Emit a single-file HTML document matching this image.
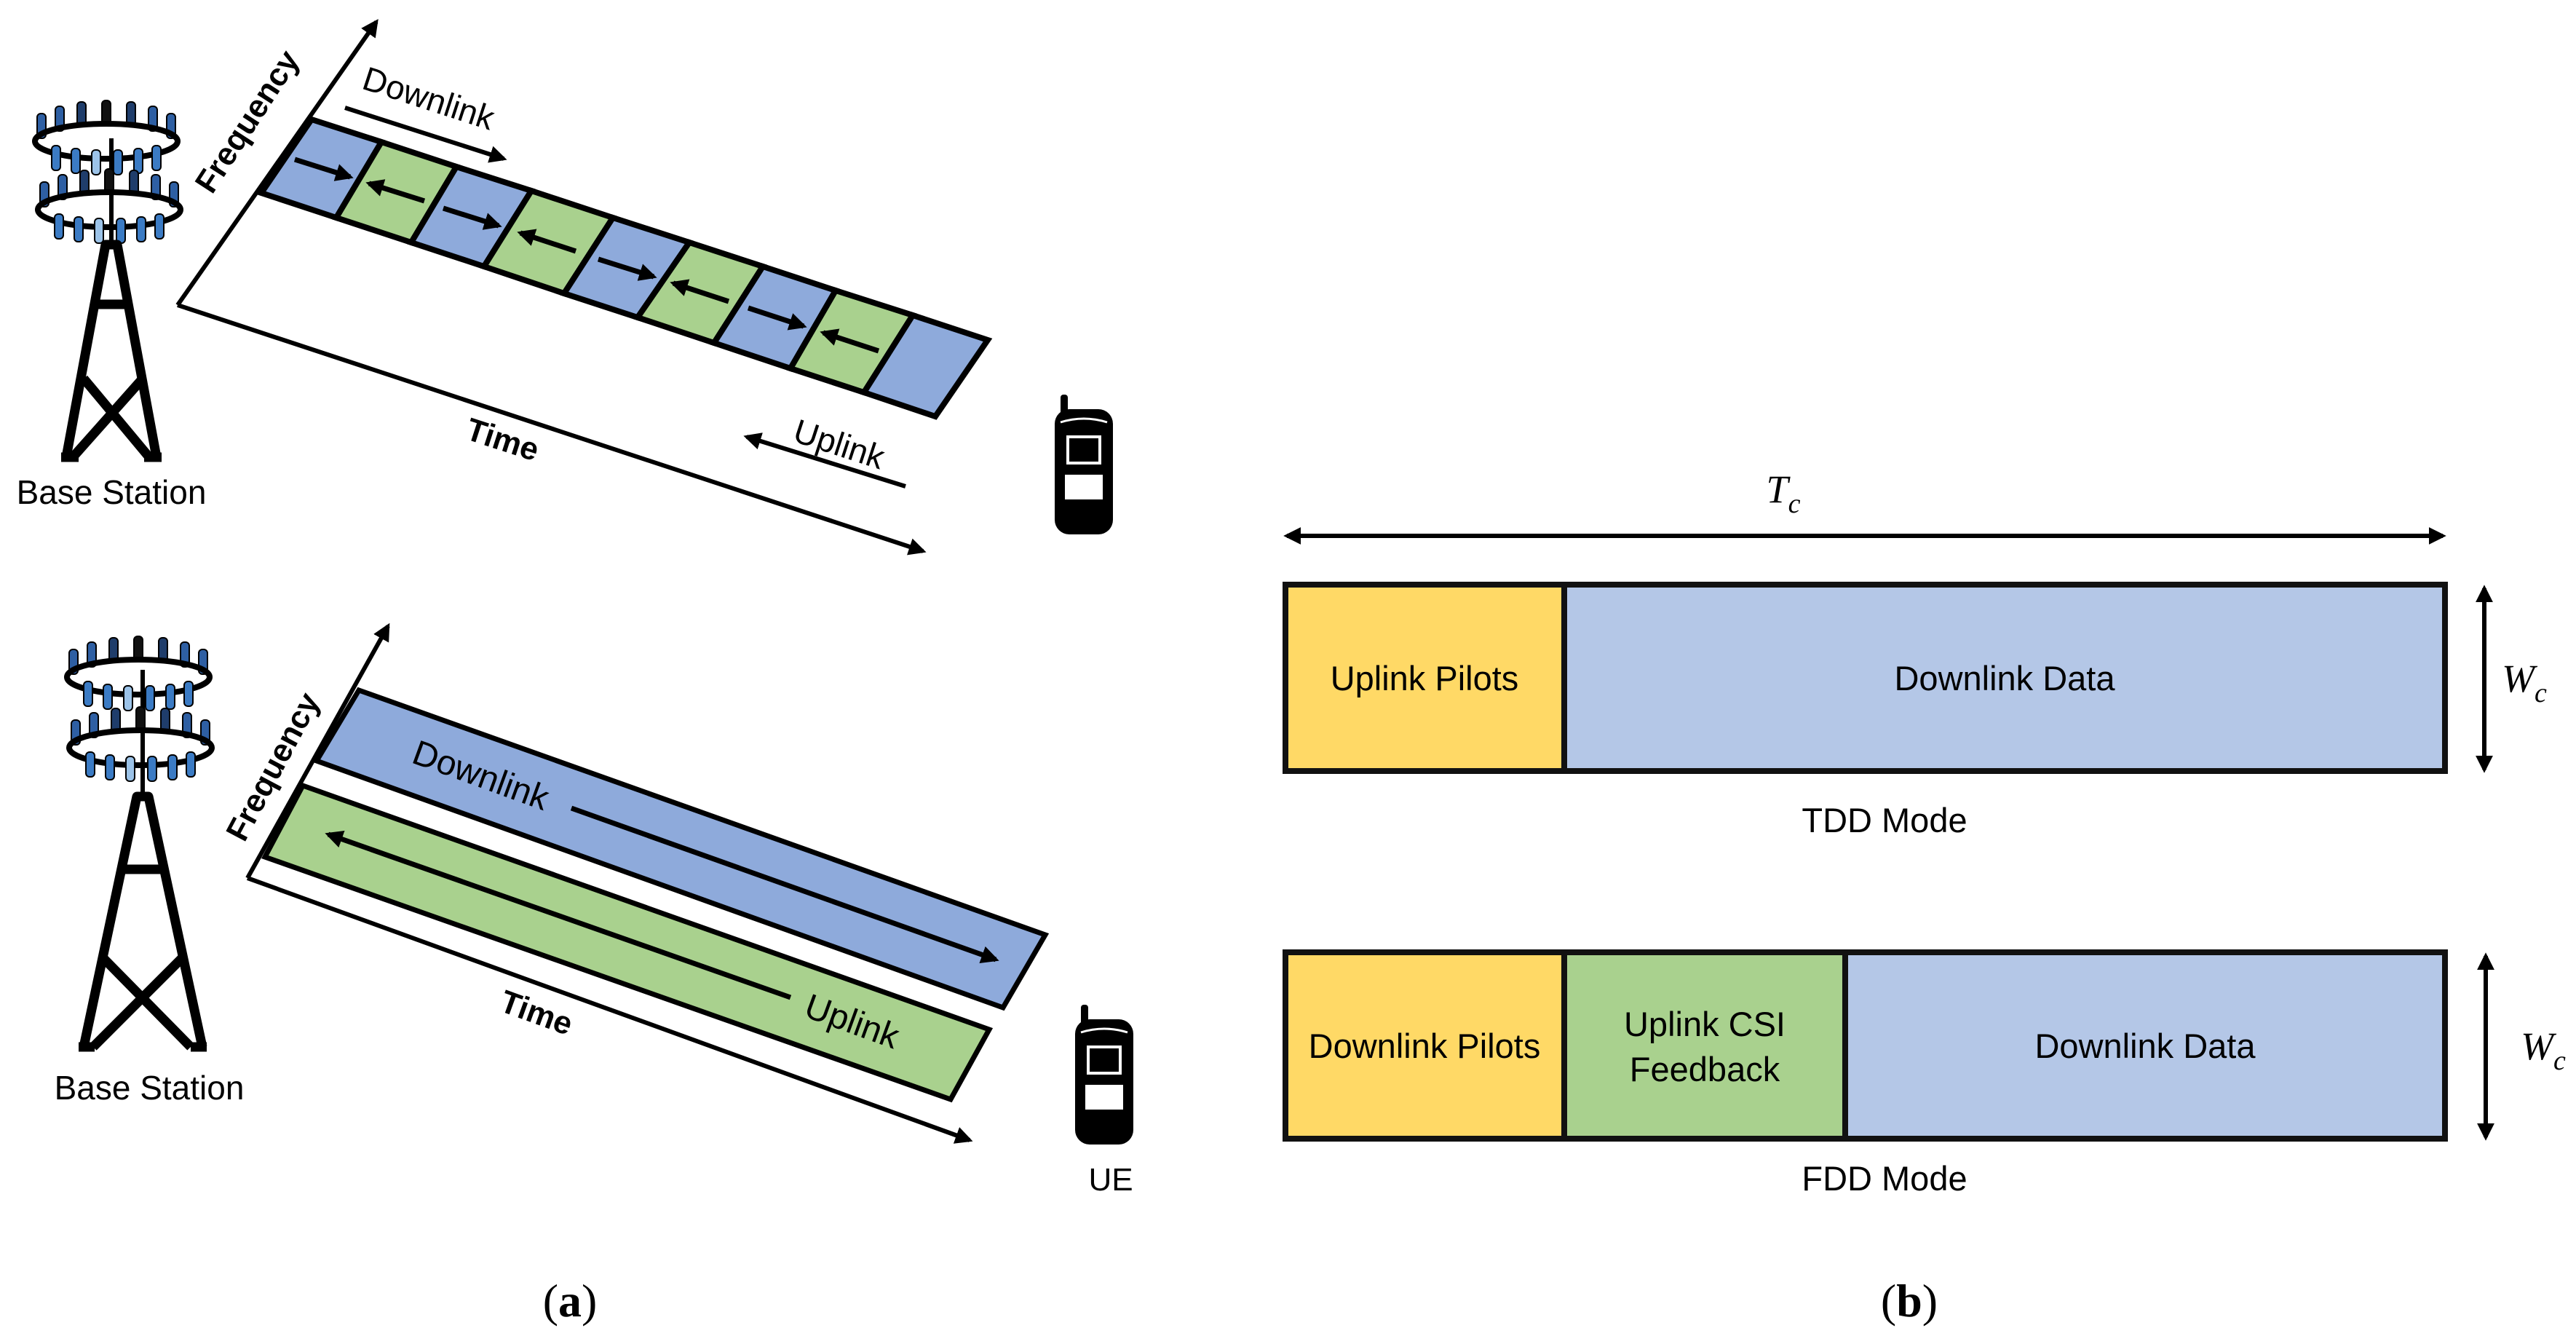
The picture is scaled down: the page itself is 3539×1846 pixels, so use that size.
<!DOCTYPE html>
<html><head><meta charset="utf-8"><style>
html,body{margin:0;padding:0;background:#fff;}
svg{display:block;}
text{font-family:"Liberation Sans",sans-serif;fill:#000;}
</style></head><body>
<svg width="3539" height="1846" viewBox="0 0 3539 1846" xmlns="http://www.w3.org/2000/svg">
<defs>
<marker id="ah" viewBox="0 0 10 10" refX="8" refY="5" markerWidth="4" markerHeight="4" orient="auto-start-reverse"><path d="M0,0 L10,5 L0,10 Z" fill="#000"/></marker>
<marker id="ah2" viewBox="0 0 10 10" refX="8" refY="5" markerWidth="3.5" markerHeight="3.5" orient="auto-start-reverse"><path d="M0,0 L10,5 L0,10 Z" fill="#000"/></marker>
<g id="ant">
  <g fill="#2e5fa3" stroke="#000" stroke-width="2">
    <rect x="-95" y="-38" width="12" height="34" rx="5"/><rect x="-70" y="-48" width="12" height="34" rx="5"/>
    <rect x="-40" y="-54" width="12" height="34" rx="5" fill="#1f3d6b"/><rect x="-6" y="-56" width="12" height="34" rx="5" fill="#111"/>
    <rect x="28" y="-54" width="12" height="34" rx="5" fill="#1f3d6b"/><rect x="58" y="-48" width="12" height="34" rx="5"/>
    <rect x="83" y="-38" width="12" height="34" rx="5"/>
  </g>
  <ellipse cx="0" cy="0" rx="98" ry="24" fill="none" stroke="#000" stroke-width="8"/>
  <g fill="#3b7bc4" stroke="#000" stroke-width="2">
    <rect x="-75" y="6" width="12" height="34" rx="5"/><rect x="-48" y="10" width="12" height="34" rx="5"/>
    <rect x="-20" y="12" width="12" height="34" rx="5" fill="#9cc3e8"/><rect x="10" y="12" width="12" height="34" rx="5"/>
    <rect x="38" y="10" width="12" height="34" rx="5"/><rect x="63" y="6" width="12" height="34" rx="5"/>
  </g>
</g>
<g id="phone">
  <rect x="-40" y="-80" width="80" height="172" rx="20" fill="#000"/>
  <rect x="-32" y="-100" width="10" height="32" rx="4" fill="#000"/>
  <rect x="-24" y="-44" width="48" height="40" fill="#fff"/>
  <rect x="-20" y="-40" width="40" height="32" fill="#000"/>
  <rect x="-26" y="10" width="52" height="34" fill="#fff"/>
  <path d="M-32,-62 Q0,-72 32,-62" stroke="#fff" stroke-width="3" fill="none"/>
</g>
</defs>

<line x1="153" y1="190" x2="153" y2="334" stroke="#000" stroke-width="6"/>
<use href="#ant" x="146" y="194"/>
<use href="#ant" x="150" y="288"/>
<g stroke="#000" stroke-width="13" fill="none" stroke-linejoin="round">
  <path d="M91,628 L145,336 L161,336 L215,628"/>
  <line x1="128" y1="418" x2="178" y2="418"/>
  <path d="M115,520 L205,628 M196,520 L100,628"/>
  <line x1="84" y1="628" x2="108" y2="628"/><line x1="198" y1="628" x2="222" y2="628"/>
</g>
<text x="153" y="692" font-size="46" text-anchor="middle">Base Station</text>

<line x1="244" y1="419" x2="517" y2="30" stroke="#000" stroke-width="6" marker-end="url(#ah)"/>
<line x1="244" y1="419" x2="1268" y2="757" stroke="#000" stroke-width="6" marker-end="url(#ah)"/>
<text x="0" y="0" font-size="44" font-weight="bold" transform="translate(352,175) rotate(-57)" text-anchor="middle">Frequency</text>
<text x="0" y="0" font-size="44" font-weight="bold" transform="translate(686,618) rotate(18)" text-anchor="middle">Time</text>

<g stroke="#000" stroke-width="8" stroke-linejoin="miter">
<polygon points="428,164 524,195 462,299 359,265" fill="#8eaadb"/>
<polygon points="524,195 627,229 565,333 462,299" fill="#a9d18e"/>
<polygon points="627,229 730,262 665,366 565,333" fill="#8eaadb"/>
<polygon points="730,262 842,299 775,403 665,366" fill="#a9d18e"/>
<polygon points="842,299 947,333 876,436 775,403" fill="#8eaadb"/>
<polygon points="947,333 1048,366 981,471 876,436" fill="#a9d18e"/>
<polygon points="1048,366 1148,399 1086,506 981,471" fill="#8eaadb"/>
<polygon points="1148,399 1254,433 1187,539 1086,506" fill="#a9d18e"/>
<polygon points="1254,433 1357,467 1285,572 1187,539" fill="#8eaadb"/>
</g>
<g stroke="#000" stroke-width="7">
<line x1="405" y1="219" x2="481" y2="243" marker-end="url(#ah2)"/>
<line x1="583" y1="276" x2="507" y2="252" marker-end="url(#ah2)"/>
<line x1="609" y1="286" x2="685" y2="310" marker-end="url(#ah2)"/>
<line x1="791" y1="345" x2="715" y2="320" marker-end="url(#ah2)"/>
<line x1="822" y1="356" x2="898" y2="380" marker-end="url(#ah2)"/>
<line x1="1001" y1="414" x2="925" y2="389" marker-end="url(#ah2)"/>
<line x1="1028" y1="423" x2="1104" y2="448" marker-end="url(#ah2)"/>
<line x1="1207" y1="482" x2="1131" y2="457" marker-end="url(#ah2)"/>
</g>
<line x1="474" y1="148" x2="692" y2="218" stroke="#000" stroke-width="6" marker-end="url(#ah)"/>
<text x="0" y="0" font-size="46" transform="translate(584,150) rotate(18)" text-anchor="middle">Downlink</text>
<line x1="1244" y1="668" x2="1026" y2="600" stroke="#000" stroke-width="6" marker-end="url(#ah)"/>
<text x="0" y="0" font-size="46" transform="translate(1148,625) rotate(18)" text-anchor="middle">Uplink</text>

<use href="#phone" x="1489" y="642"/>

<line x1="196" y1="920" x2="196" y2="1093" stroke="#000" stroke-width="6"/>
<use href="#ant" x="190" y="930"/>
<use href="#ant" x="193" y="1027"/>
<g stroke="#000" stroke-width="13" fill="none" stroke-linejoin="round">
  <path d="M115,1438 L188,1094 L204,1094 L278,1438"/>
  <line x1="170" y1="1194" x2="224" y2="1194"/>
  <path d="M140,1314 L262,1438 M252,1314 L128,1438"/>
  <line x1="108" y1="1438" x2="130" y2="1438"/><line x1="262" y1="1438" x2="284" y2="1438"/>
</g>
<text x="205" y="1510" font-size="46" text-anchor="middle">Base Station</text>

<line x1="340" y1="1206" x2="533" y2="860" stroke="#000" stroke-width="6" marker-end="url(#ah)"/>
<line x1="340" y1="1206" x2="1332" y2="1566" stroke="#000" stroke-width="6" marker-end="url(#ah)"/>
<text x="0" y="0" font-size="44" font-weight="bold" transform="translate(388,1060) rotate(-62)" text-anchor="middle">Frequency</text>
<text x="0" y="0" font-size="44" font-weight="bold" transform="translate(732,1405) rotate(20)" text-anchor="middle">Time</text>

<polygon points="493,948 1436,1284 1378,1384 435,1045" fill="#8eaadb" stroke="#000" stroke-width="7"/>
<polygon points="416,1079 1359,1414 1306,1510 364,1177" fill="#a9d18e" stroke="#000" stroke-width="7"/>
<line x1="785" y1="1110" x2="1368" y2="1318" stroke="#000" stroke-width="7" marker-end="url(#ah2)"/>
<line x1="1086" y1="1370" x2="451" y2="1146" stroke="#000" stroke-width="7" marker-end="url(#ah2)"/>
<text x="0" y="0" font-size="48" transform="translate(655,1080) rotate(20)" text-anchor="middle">Downlink</text>
<text x="0" y="0" font-size="48" transform="translate(1165,1418) rotate(20)" text-anchor="middle">Uplink</text>

<use href="#phone" x="1517" y="1480"/>
<text x="1526" y="1635" font-size="44" text-anchor="middle">UE</text>

<text x="783" y="1808" font-size="64" style="font-family:'Liberation Serif',serif" text-anchor="middle">(<tspan font-weight="bold">a</tspan>)</text>

<line x1="1768" y1="736" x2="3356" y2="736" stroke="#000" stroke-width="6" marker-start="url(#ah)" marker-end="url(#ah)"/>
<text x="2450" y="690" font-size="54" font-style="italic" style="font-family:'Liberation Serif',serif" text-anchor="middle">T<tspan font-size="38" dy="14">c</tspan></text>

<rect x="1766" y="803" width="1593" height="256" fill="#b4c7e7" stroke="#111" stroke-width="8"/>
<rect x="1766" y="803" width="383" height="256" fill="#ffd966" stroke="#111" stroke-width="8"/>
<text x="1957" y="948" font-size="47" text-anchor="middle">Uplink Pilots</text>
<text x="2754" y="948" font-size="47" text-anchor="middle">Downlink Data</text>
<line x1="3413" y1="808" x2="3413" y2="1057" stroke="#000" stroke-width="6" marker-start="url(#ah)" marker-end="url(#ah)"/>
<text x="3468" y="950" font-size="54" font-style="italic" style="font-family:'Liberation Serif',serif" text-anchor="middle">W<tspan font-size="38" dy="14">c</tspan></text>
<text x="2589" y="1143" font-size="47" text-anchor="middle">TDD Mode</text>

<rect x="1766" y="1308" width="1593" height="256" fill="#b4c7e7" stroke="#111" stroke-width="8"/>
<rect x="1766" y="1308" width="383" height="256" fill="#ffd966" stroke="#111" stroke-width="8"/>
<rect x="2149" y="1308" width="386" height="256" fill="#a9d18e" stroke="#111" stroke-width="8"/>
<text x="1957" y="1453" font-size="47" text-anchor="middle">Downlink Pilots</text>
<text x="2342" y="1423" font-size="47" text-anchor="middle">Uplink CSI</text>
<text x="2342" y="1485" font-size="47" text-anchor="middle">Feedback</text>
<text x="2947" y="1453" font-size="47" text-anchor="middle">Downlink Data</text>
<line x1="3415" y1="1313" x2="3415" y2="1562" stroke="#000" stroke-width="6" marker-start="url(#ah)" marker-end="url(#ah)"/>
<text x="3494" y="1455" font-size="54" font-style="italic" style="font-family:'Liberation Serif',serif" text-anchor="middle">W<tspan font-size="38" dy="14">c</tspan></text>
<text x="2589" y="1635" font-size="47" text-anchor="middle">FDD Mode</text>

<text x="2623" y="1808" font-size="64" style="font-family:'Liberation Serif',serif" text-anchor="middle">(<tspan font-weight="bold">b</tspan>)</text>
</svg>
</body></html>
